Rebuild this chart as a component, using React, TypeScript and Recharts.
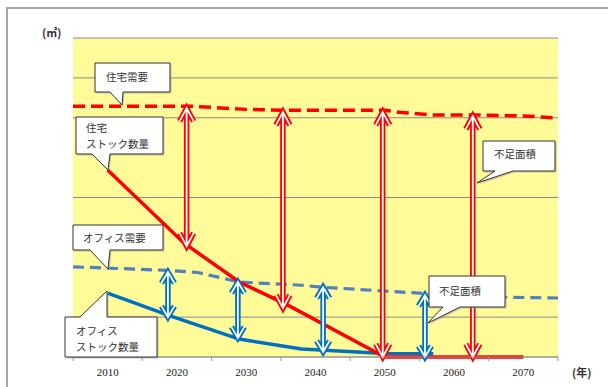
import React from "react";
import {
  LineChart,
  Line,
  XAxis,
  YAxis,
  CartesianGrid,
  ReferenceLine,
} from "recharts";

// 住宅需要 / 住宅ストック数量 / オフィス需要 / オフィスストック数量
const housingDemand = [
  { year: 2005, v: 6.29 },
  { year: 2022, v: 6.29 },
  { year: 2030, v: 6.21 },
  { year: 2035, v: 6.19 },
  { year: 2050, v: 6.19 },
  { year: 2052, v: 6.14 },
  { year: 2057, v: 6.07 },
  { year: 2063, v: 6.07 },
  { year: 2071, v: 6.04 },
  { year: 2075, v: 5.99 },
];
const housingStock = [
  { year: 2010, v: 4.69 },
  { year: 2021, v: 2.86 },
  { year: 2029, v: 1.88 },
  { year: 2036, v: 1.3 },
  { year: 2050, v: 0 },
  { year: 2070, v: 0 },
];
const officeDemand = [
  { year: 2005, v: 2.26 },
  { year: 2010, v: 2.23 },
  { year: 2019, v: 2.17 },
  { year: 2023, v: 2.12 },
  { year: 2029, v: 1.88 },
  { year: 2038, v: 1.8 },
  { year: 2041, v: 1.75 },
  { year: 2055, v: 1.6 },
  { year: 2067, v: 1.5 },
  { year: 2075, v: 1.48 },
];
const officeStock = [
  { year: 2010, v: 1.6 },
  { year: 2019, v: 1.03 },
  { year: 2029, v: 0.45 },
  { year: 2038, v: 0.2 },
  { year: 2050, v: 0.09 },
  { year: 2057, v: 0.08 },
];

// 不足面積 arrows: year, top value, bottom value
const housingGap = [
  { year: 2021.4, top: 6.24, bottom: 2.78 },
  { year: 2035.3, top: 6.14, bottom: 1.23 },
  { year: 2049.7, top: 6.14, bottom: 0 },
  { year: 2062.7, top: 6.04, bottom: 0 },
];
const officeGap = [
  { year: 2018.7, top: 2.13, bottom: 1.0 },
  { year: 2028.8, top: 1.88, bottom: 0.48 },
  { year: 2041.1, top: 1.75, bottom: 0.13 },
  { year: 2055.8, top: 1.55, bottom: 0 },
];

const tickBounds = [2005, 2015, 2025, 2035, 2045, 2055, 2065, 2075];
const gridValues = [1, 4, 6, 7];

const W = 608;
const H = 387;
const M = { top: 38, right: 50, bottom: 0, left: 73 };
const PX_PER_YEAR = (W - M.left - M.right) / 70;

const RED = "#FF0000";
const BLUE = "#0070C0";
const FONT = "'Noto Sans CJK JP', sans-serif";

const arrowShape = (color: string, hw: number, hl: number) => (props: any) => {
  const { x1, y1, y2 } = props;
  const x = Number(x1);
  const t = Math.min(Number(y1), Number(y2));
  const b = Math.max(Number(y1), Number(y2));
  const d =
    `M${x},${t} L${x},${b} ` +
    `M${x - hw},${t + hl} L${x},${t} L${x + hw},${t + hl} ` +
    `M${x - hw},${b - hl} L${x},${b} L${x + hw},${b - hl}`;
  return (
    <g>
      <path d={d} fill="none" stroke={color} strokeWidth={5.5} />
      <path d={d} fill="none" stroke="#fff" strokeWidth={1.8} />
    </g>
  );
};

// labels sit between the boundary ticks
const YearTick = (props: any) => {
  const { x, y, payload } = props;
  if (payload.value >= 2075) return null;
  return (
    <text
      x={x + 5 * PX_PER_YEAR}
      y={y}
      dy={15}
      textAnchor="middle"
      fontFamily="'Liberation Serif', serif"
      fontSize={11}
      fill="#222"
    >
      {payload.value + 5}
    </text>
  );
};

type Callout = {
  box: [number, number, number, number];
  base: [number, number];
  tip: [number, number];
  side: "top" | "bottom";
  lines: { text: string; x: number; y: number }[];
};

const callouts: Callout[] = [
  {
    box: [95, 63, 170, 92],
    base: [110, 123],
    tip: [122, 105],
    side: "bottom",
    lines: [{ text: "住宅需要", x: 106, y: 81 }],
  },
  {
    box: [76, 117, 163, 154],
    base: [92, 110],
    tip: [108, 170],
    side: "bottom",
    lines: [
      { text: "住宅", x: 86, y: 132 },
      { text: "ストック数量", x: 86, y: 148 },
    ],
  },
  {
    box: [73, 225, 163, 250],
    base: [90, 110],
    tip: [108, 269],
    side: "bottom",
    lines: [{ text: "オフィス需要", x: 83, y: 242 }],
  },
  {
    box: [65, 317, 157, 357],
    base: [80, 107],
    tip: [107, 291],
    side: "top",
    lines: [
      { text: "オフィス", x: 76, y: 335 },
      { text: "ストック数量", x: 76, y: 351 },
    ],
  },
  {
    box: [483, 141, 555, 171],
    base: [495, 513],
    tip: [477, 183],
    side: "bottom",
    lines: [{ text: "不足面積", x: 494, y: 158 }],
  },
  {
    box: [429, 276, 505, 307],
    base: [443, 460],
    tip: [428, 323],
    side: "bottom",
    lines: [{ text: "不足面積", x: 439, y: 295 }],
  },
];

const calloutPath = (c: Callout) => {
  const [x0, y0, x1, y1] = c.box;
  const [bl, br] = c.base;
  const [tx, ty] = c.tip;
  if (c.side === "bottom") {
    return `M${x0},${y0} L${x1},${y0} L${x1},${y1} L${br},${y1} L${tx},${ty} L${bl},${y1} L${x0},${y1} Z`;
  }
  return `M${x0},${y0} L${bl},${y0} L${tx},${ty} L${br},${y0} L${x1},${y0} L${x1},${y1} L${x0},${y1} Z`;
};

export default function App() {
  return (
    <div
      style={{
        position: "absolute",
        left: 0,
        top: 0,
        width: W,
        height: H,
        background: "#fff",
        overflow: "hidden",
      }}
    >
      <div
        style={{
          position: "absolute",
          left: 6,
          top: 7,
          width: W,
          height: H,
          borderTop: "2px solid #A6A6A6",
          borderLeft: "2px solid #A6A6A6",
        }}
      />
      <div style={{ position: "absolute", left: 0, top: 0 }}>
        <LineChart width={W} height={H} margin={M}>
          <CartesianGrid
            vertical={false}
            fill="#FFFB99"
            fillOpacity={1}
            stroke="#8C8C8C"
            strokeWidth={1}
          />
          <XAxis
            dataKey="year"
            type="number"
            domain={[2005, 2075]}
            ticks={tickBounds}
            height={30}
            tickSize={4}
            tickMargin={0}
            axisLine={{ stroke: "#999" }}
            tickLine={{ stroke: "#999" }}
            tick={<YearTick />}
            interval={0}
          />
          <YAxis hide domain={[0, 8]} ticks={gridValues} />
          <Line
            data={officeDemand}
            dataKey="v"
            stroke="#4F81BD"
            strokeWidth={3.2}
            strokeDasharray="11 6"
            dot={false}
            isAnimationActive={false}
          />
          <Line
            data={officeStock}
            dataKey="v"
            stroke={BLUE}
            strokeWidth={3.5}
            dot={false}
            isAnimationActive={false}
          />
          <Line
            data={housingDemand}
            dataKey="v"
            stroke={RED}
            strokeWidth={3.5}
            strokeDasharray="12 6"
            dot={false}
            isAnimationActive={false}
          />
          <Line
            data={housingStock}
            dataKey="v"
            stroke={RED}
            strokeWidth={3.5}
            dot={false}
            isAnimationActive={false}
          />
          {housingGap.map((a, i) => (
            <ReferenceLine
              key={"h" + i}
              segment={[
                { x: a.year, y: a.top },
                { x: a.year, y: a.bottom },
              ]}
              ifOverflow="visible"
              shape={arrowShape(RED, 7, 13)}
            />
          ))}
          {officeGap.map((a, i) => (
            <ReferenceLine
              key={"o" + i}
              segment={[
                { x: a.year, y: a.top },
                { x: a.year, y: a.bottom },
              ]}
              ifOverflow="visible"
              shape={arrowShape(BLUE, 6.5, 11)}
            />
          ))}
        </LineChart>
      </div>
      <svg
        width={W}
        height={H}
        style={{ position: "absolute", left: 0, top: 0, pointerEvents: "none" }}
      >
        {callouts.map((c, i) => (
          <g key={i}>
            <path
              d={calloutPath(c)}
              transform="translate(1.5,1.5)"
              fill="#999"
              opacity={0.5}
            />
            <path d={calloutPath(c)} fill="#fff" stroke="#333" strokeWidth={1} />
            {c.lines.map((l, j) => (
              <text
                key={j}
                x={l.x}
                y={l.y}
                fontFamily={FONT}
                fontSize={10.5}
                fill="#333"
              >
                {l.text}
              </text>
            ))}
          </g>
        ))}
        <text x={42} y={37} fontFamily={FONT} fontSize={11} fontWeight="bold" fill="#333">
          (㎡)
        </text>
        <text x={572} y={377} fontFamily={FONT} fontSize={11} fontWeight="bold" fill="#333">
          (年)
        </text>
      </svg>
    </div>
  );
}
